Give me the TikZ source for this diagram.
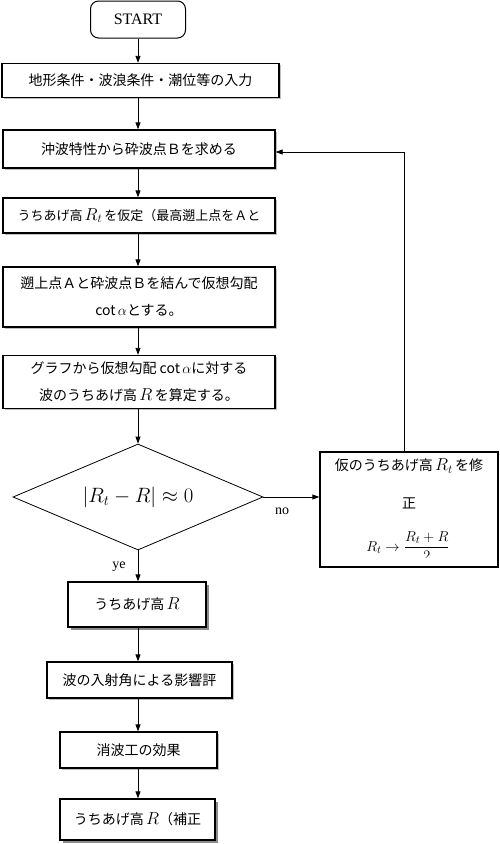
\documentclass[tikz,border=0pt]{standalone}
\usepackage{fontspec}
\setmainfont{Liberation Serif}
\newfontfamily\jp{Noto Sans CJK JP}
\usetikzlibrary{arrows.meta,shapes.geometric,shadows}
\newcommand{\bigmathx}[1]{{\fontsize{17}{17}\selectfont$#1$}}
\begin{document}
\begin{tikzpicture}[x=1pt,y=-1pt,
  box/.style={draw,line width=1.3pt,inner sep=0pt,align=center,fill=white,
    font=\jp\fontsize{14}{27}\selectfont},
  sbox/.style={box,drop shadow={shadow xshift=2.5pt,shadow yshift=-2.5pt,fill=black!45,opacity=1}},
  lbox/.style={box,drop shadow={shadow xshift=1.5pt,shadow yshift=-1.5pt,fill=black!25,opacity=1}},
  arr/.style={line width=0.8pt,-{Triangle[length=7pt,width=5pt]}},
  lab/.style={font=\fontsize{14}{16}\selectfont,inner sep=0pt},
  rtxt/.style={inner sep=0pt,font=\jp\fontsize{14}{16}\selectfont}]
\useasboundingbox (0,0) rectangle (500,844);

\node[draw,line width=1pt,rounded corners=8pt,minimum width=95pt,minimum height=37pt,lab,font=\fontsize{16}{18}\selectfont] (start) at (138,19.5) {START};
\node[lbox,minimum width=277pt,minimum height=34pt] (b1) at (140.5,80.5) {地形条件・波浪条件・潮位等の入力};
\node[lbox,minimum width=272pt,minimum height=38pt] (b2) at (139,149) {沖波特性から砕波点Ｂを求める};
\node[lbox,minimum width=272pt,minimum height=35pt,font=\jp\fontsize{13}{16}\selectfont] (b3) at (139,215.5) {うちあげ高\,\bigmathx{R_t}\,を仮定（最高遡上点をＡと};
\node[lbox,minimum width=272pt,minimum height=60pt] (b4) at (139,297) {遡上点Ａと砕波点Ｂを結んで仮想勾配\\cot\,$\alpha$とする。};
\node[lbox,minimum width=272pt,minimum height=53pt] (b5) at (139,382) {グラフから仮想勾配 cot\,$\alpha$に対する\\波のうちあげ高\,\bigmathx{R}\,を算定する。};

\node[draw,line width=0.8pt,diamond,aspect=2.36,minimum width=250pt,minimum height=106pt,inner sep=0pt,font=\fontsize{21}{24}\selectfont] (d) at (138,497) {$\left|R_t-R\right|\approx 0$};

\node[box,minimum width=178pt,minimum height=115pt] (r) at (409,509.5) {};
\node[rtxt] (r1) at (409,466) {仮のうちあげ高\,\bigmathx{R_t}\,を修};
\node[rtxt] (r2) at (409,503) {正};
\begin{scope}
\clip (321,453) rectangle (497,557);
\node[inner sep=0pt,anchor=base,font=\fontsize{15}{17}\selectfont] (r3) at (408,551) {$R_t\to\displaystyle\frac{R_t+R}{2}$};
\end{scope}

\node[sbox,minimum width=138pt,minimum height=45pt] (b6) at (137,604.5) {うちあげ高\,\bigmathx{R}};
\node[lbox,minimum width=185pt,minimum height=36pt] (b7) at (139.5,680) {波の入射角による影響評};
\node[lbox,minimum width=157pt,minimum height=36pt] (b8) at (138.5,750) {消波工の効果};
\node[sbox,minimum width=155pt,minimum height=41pt] (b9) at (137.5,819.5) {うちあげ高\,\bigmathx{R}（補正};

\node[lab] (no) at (282,511) {no};
\node[lab] (ye) at (119,567) {ye};

\draw[arr] (start.south) -- (start.south |- b1.north);
\draw[arr] (b1.south -| start.south) -- (b2.north -| start.south);
\draw[arr] (b2.south -| start.south) -- (b3.north -| start.south);
\draw[arr] (b3.south -| start.south) -- (b4.north -| start.south);
\draw[arr] (b4.south -| start.south) -- (b5.north -| start.south);
\draw[arr] (b5.south -| start.south) -- (d.north);
\draw[arr] (d.east) -- (d.east -| r.west);
\draw[arr] (d.south) -- (d.south |- b6.north);
\draw[arr] (b6.south -| start.south) -- (b7.north -| start.south);
\draw[arr] (b7.south -| start.south) -- (b8.north -| start.south);
\draw[arr] (b8.south -| start.south) -- (b9.north -| start.south);
\coordinate (lp) at (404,152);
\draw[arr] (r.north -| lp) -- (lp) -- (lp -| b2.east);
\end{tikzpicture}
\end{document}
